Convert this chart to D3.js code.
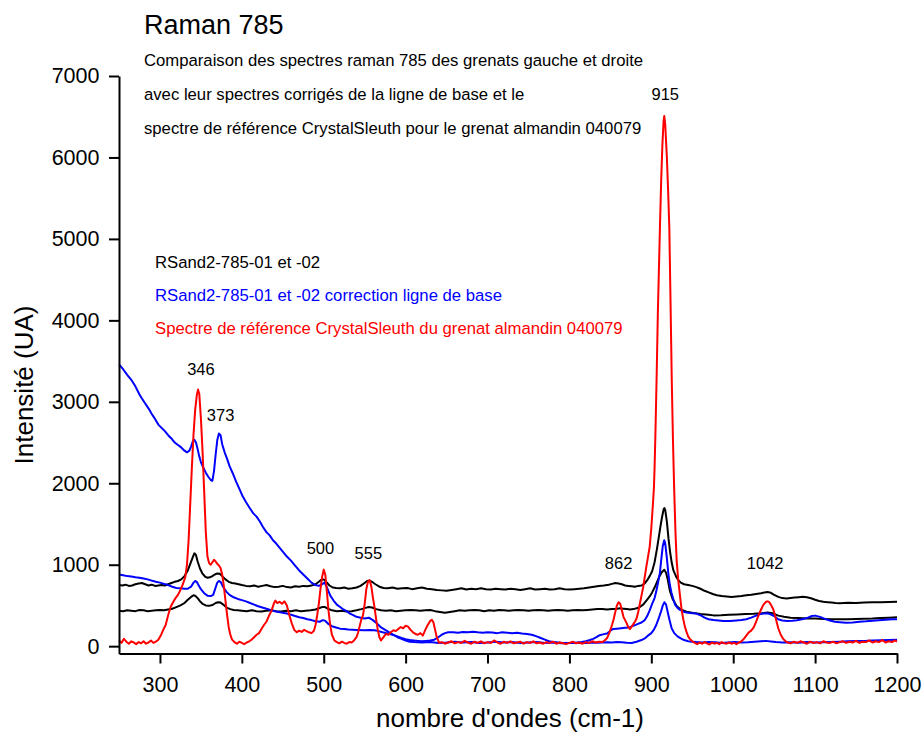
<!DOCTYPE html>
<html>
<head>
<meta charset="utf-8">
<script src="https://cdn.jsdelivr.net/npm/d3@7"></script>
<style>
  html, body { margin: 0; padding: 0; background: #fff; }
  svg { display: block; font-family: "Liberation Sans", Arial, sans-serif; }
</style>
</head>
<body>
<svg id="chart" width="922" height="738"></svg>
<script>
// Raman 785 spectra: [wavenumber (cm-1), intensity (UA)]
const rawUpper = [[250,750],[254,745],[258,755],[262,740],[266,745],[270,760],[274,770],[278,775],[282,760],[286,745],[290,755],[294,740],[298,745],[302,750],[306,745],[310,760],[314,775],[318,790],[322,800],[326,820],[330,860],[334,930],[337,1010],[340,1090],[342,1140],[344,1120],[346,1040],[349,950],[352,890],[355,855],[358,840],[361,845],[364,860],[367,880],[370,893],[373,890],[376,860],[380,820],[384,790],[388,775],[392,770],[396,760],[400,750],[405,740],[410,735],[415,745],[420,730],[425,740],[430,750],[435,735],[440,725],[445,730],[450,740],[455,725],[460,720],[465,735],[470,730],[475,740],[480,735],[485,745],[490,760],[494,790],[497,815],[500,820],[503,790],[507,745],[511,720],[515,715],[520,710],[525,720],[530,705],[535,710],[540,720],[545,740],[549,770],[553,800],[556,805],[559,790],[563,760],[568,730],[573,715],[578,710],[584,720],[590,705],[596,710],[602,715],[608,700],[614,710],[620,720],[626,705],[632,700],[638,690],[644,685],[650,680],[656,690],[662,700],[668,710],[674,695],[680,705],[686,700],[692,710],[698,700],[704,695],[710,705],[716,700],[722,695],[728,705],[734,700],[740,690],[746,700],[752,710],[758,695],[764,700],[770,705],[776,695],[782,700],[788,710],[794,700],[800,695],[806,700],[812,705],[818,710],[824,720],[830,730],[836,740],[842,745],[848,755],[852,765],[856,775],[860,770],[864,760],[868,745],[872,740],[876,735],[880,730],[884,740],[888,745],[892,770],[895,810],[898,860],[901,920],[904,1030],[907,1200],[909,1330],[911,1460],[913,1580],[915,1680],[916,1695],[917,1670],[919,1530],[921,1320],[923,1150],[925,1020],[927,930],[930,860],[933,810],[936,780],[940,760],[945,750],[950,740],[955,725],[960,705],[965,680],[970,660],[975,640],[980,625],[986,615],[992,610],[998,605],[1004,610],[1010,615],[1016,625],[1022,630],[1028,640],[1034,650],[1038,660],[1042,665],[1046,655],[1050,630],[1055,605],[1060,590],[1065,585],[1070,592],[1075,598],[1080,602],[1085,606],[1090,600],[1095,588],[1100,570],[1105,555],[1110,545],[1115,540],[1120,535],[1125,530],[1130,528],[1140,532],[1150,530],[1160,535],[1170,538],[1180,540],[1190,542],[1200,545]];

const rawLower = [[250,435],[255,430],[260,440],[265,435],[270,430],[275,445],[280,440],[285,430],[290,435],[295,440],[300,445],[305,440],[310,450],[315,460],[320,480],[325,500],[330,530],[334,570],[338,605],[341,625],[343,620],[346,590],[349,550],[352,520],[356,500],[360,495],[364,505],[368,530],[371,540],[374,535],[378,505],[382,470],[386,455],[390,445],[395,440],[400,435],[406,430],[412,440],[418,430],[424,425],[430,435],[436,440],[442,430],[448,425],[454,435],[460,430],[466,440],[472,430],[478,435],[484,440],[490,450],[494,465],[498,480],[501,482],[505,460],[510,440],[516,430],[522,435],[528,425],[534,430],[540,440],[546,455],[551,470],[555,480],[559,475],[564,455],[570,440],[576,435],[582,440],[588,430],[594,435],[600,440],[606,445],[612,440],[618,435],[624,440],[630,445],[636,430],[642,420],[648,410],[654,420],[660,430],[666,440],[672,435],[678,440],[684,445],[690,440],[696,430],[702,440],[708,435],[714,445],[720,440],[726,435],[732,440],[738,445],[744,440],[750,435],[756,440],[762,445],[768,440],[774,435],[780,440],[786,445],[792,440],[798,435],[804,440],[810,445],[816,440],[822,445],[828,450],[834,455],[840,455],[846,450],[852,455],[858,460],[862,465],[866,460],[870,455],[874,450],[878,455],[882,465],[886,480],[890,510],[894,560],[898,610],[901,660],[904,720],[907,790],[910,860],[913,910],[915.8,938],[918,900],[920,820],[922.8,675],[926,580],[930.9,493],[936,450],[943,424],[950,410],[960,395],[970,385],[976,378],[985,380],[995,385],[1005,390],[1015,395],[1025,398],[1035,405],[1042,415],[1048,405],[1055,375],[1062,360],[1070,350],[1080,345],[1090,340],[1100,340],[1110,335],[1120,332],[1130,330],[1140,332],[1150,335],[1160,338],[1170,340],[1180,345],[1190,350],[1200,355]];

const correctedHigh = [[250,3460],[255,3400],[260,3330],[265,3270],[270,3190],[275,3090],[278,3040],[282,2980],[286,2920],[290,2850],[294,2790],[298,2720],[302,2680],[306,2640],[310,2590],[314,2550],[318,2500],[322,2470],[326,2440],[330,2400],[333,2380],[336,2400],[338,2450],[340,2510],[342,2535],[344,2500],[346,2420],[348,2330],[350,2260],[353,2190],[356,2130],[359,2080],[362,2040],[364,2030],[366,2150],[368,2350],[370,2530],[372,2610],[374,2590],[376,2480],[379,2380],[382,2300],[385,2210],[389,2120],[393,2020],[397,1930],[401,1840],[405,1770],[410,1690],[414,1630],[418,1590],[422,1530],[426,1460],[430,1400],[434,1360],[438,1300],[442,1260],[446,1210],[450,1160],[455,1100],[460,1050],[465,990],[470,930],[475,880],[480,830],[485,780],[490,750],[494,740],[498,760],[501,780],[504,720],[508,620],[512,560],[516,510],[520,480],[524,450],[528,430],[532,400],[536,380],[540,360],[545,350],[550,340],[555,350],[560,320],[565,280],[570,230],[575,200],[580,170],[585,140],[590,110],[595,90],[600,70],[605,55],[610,50],[620,45],[630,50],[640,40],[650,45],[660,55],[670,45],[680,50],[690,40],[700,45],[710,55],[720,45],[730,50],[740,40],[750,45],[760,50],[770,40],[780,45],[790,35],[800,40],[810,45],[815,50],[820,60],[825,75],[829,90],[833,110],[837,135],[841,145],[846,155],[850,190],[853,210],[858,215],[863,220],[868,225],[873,230],[878,250],[883,270],[888,290],[892,320],[895,370],[898,440],[901,520],[904,590],[906,670],[908,770],[910.5,900],[912,1050],[914,1230],[915.8,1300],[917,1260],[919,1080],[920.7,900],[922.5,760],[924.5,660],[926.8,580],[929,510],[932,470],[935,445],[940,420],[945,410],[950,405],[955,400],[960,380],[965,350],[970,330],[976,320],[982,315],[988,310],[996,310],[1004,315],[1010,320],[1016,330],[1022,350],[1028,375],[1033,395],[1037,400],[1041,405],[1045,395],[1050,370],[1055,330],[1060,315],[1066,310],[1072,312],[1078,318],[1084,330],[1090,345],[1096,370],[1100,375],[1106,360],[1112,335],[1118,315],[1124,300],[1130,295],[1138,288],[1146,290],[1154,300],[1162,305],[1170,312],[1178,318],[1186,325],[1194,330],[1200,330]];

const correctedLow = [[250,880],[255,870],[260,860],[265,855],[270,845],[275,840],[280,830],[285,820],[290,805],[295,790],[300,780],[305,765],[310,750],[315,730],[320,715],[325,710],[330,705],[334,705],[338,730],[341,780],[343,800],[345,790],[347,750],[350,700],[354,650],[358,620],[362,615],[365,630],[368,720],[370,780],[372,800],[374,790],[377,730],[381,670],[385,630],[390,600],[395,580],[400,565],[405,550],[410,530],[415,510],[420,490],[425,475],[430,460],[435,445],[440,430],[445,420],[450,410],[455,400],[460,385],[465,370],[470,355],[475,345],[480,330],[485,320],[490,305],[495,300],[499,320],[502,310],[506,270],[510,245],[515,230],[520,215],[525,210],[530,205],[540,200],[550,195],[556,200],[562,196],[567,185],[572,170],[578,155],[584,140],[590,120],[595,100],[600,85],[605,75],[610,70],[615,65],[620,60],[625,65],[630,70],[635,80],[640,110],[644,140],[648,160],[652,170],[658,172],[664,165],[670,175],[676,170],[682,178],[688,170],[694,165],[700,172],[706,168],[712,160],[718,170],[724,165],[730,158],[736,165],[742,155],[748,150],[754,140],[760,120],[765,100],[770,80],[775,60],[780,50],[786,45],[792,40],[798,38],[804,40],[810,42],[816,38],[822,40],[828,45],[834,42],[840,45],[846,48],[852,45],[858,50],[864,48],[870,42],[876,40],[882,55],[888,75],[892,95],[896,130],[900,160],[903,200],[906,260],[909,340],[912,430],[914,500],[916,540],[918,510],[920,420],[922,330],[924.8,221],[928,160],[932,120],[936,95],[940,75],[945,60],[950,55],[955,50],[962,45],[970,52],[978,48],[986,40],[994,45],[1002,50],[1010,45],[1018,48],[1026,55],[1034,60],[1040,65],[1046,58],[1052,50],[1060,45],[1070,48],[1080,42],[1090,50],[1100,45],[1110,48],[1120,52],[1130,55],[1140,60],[1150,62],[1160,65],[1170,70],[1180,72],[1190,75],[1200,80]];

const reference = [[250,70],[253,40],[256,90],[259,55],[262,30],[265,60],[268,45],[271,25],[274,50],[277,35],[280,60],[283,30],[286,45],[289,70],[292,40],[295,55],[298,80],[301,130],[304,200],[307,260],[310,380],[313,480],[316,540],[319,590],[322,630],[325,690],[328,760],[331,850],[333,1000],[335,1300],[337,1750],[339,2200],[341,2600],[343,2900],[345,3080],[346.5,3150],[348,3100],[350,2800],[352,2400],[354,1900],[356,1400],[358,1100],[360,1020],[362,1000],[364,1030],[366,1060],[368,1040],[370,1010],[372,990],[374,960],[376,880],[378,740],[380,560],[382,380],[384,230],[386,140],[388,80],[391,50],[394,30],[397,55],[400,40],[403,25],[406,45],[409,60],[412,80],[415,110],[418,140],[421,160],[424,210],[427,260],[430,300],[433,370],[436,430],[439,520],[441,560],[443,530],[446,545],[449,520],[452,550],[455,500],[458,380],[461,280],[464,200],[467,170],[470,190],[473,175],[476,200],[479,185],[482,170],[485,160],[488,190],[490,260],[492,380],[494,520],[496,700],[498,850],[500,940],[502,870],[504,650],[506,420],[508,250],[510,140],[513,70],[516,50],[519,35],[522,55],[525,40],[528,30],[531,50],[534,45],[537,70],[540,110],[542,170],[544,250],[546,330],[548,380],[550,520],[552,700],[554,790],[556,810],[558,740],[560,600],[562,480],[564,330],[566,200],[568,110],[570,70],[573,110],[576,150],[579,140],[582,170],[585,195],[588,185],[591,210],[594,235],[597,220],[600,250],[603,240],[606,200],[609,170],[612,150],[615,140],[618,160],[621,130],[624,200],[627,260],[630,310],[632,325],[634,290],[636,200],[638,110],[641,40],[644,50],[648,30],[652,45],[656,60],[660,35],[664,50],[668,40],[672,65],[676,45],[680,30],[684,55],[688,40],[692,60],[696,35],[700,50],[704,40],[708,70],[712,45],[716,30],[720,55],[724,40],[728,60],[732,35],[736,45],[740,55],[744,30],[748,50],[752,40],[756,60],[760,35],[764,45],[768,30],[772,50],[776,40],[780,55],[784,30],[788,45],[792,35],[796,25],[800,40],[804,55],[808,35],[812,45],[816,30],[820,50],[824,40],[828,60],[832,45],[836,55],[840,50],[843,70],[846,100],[849,170],[852,260],[854,330],[856,420],[858,500],[860,540],[862,520],[864,440],[866,360],[868,320],[870,280],[872,230],[874,210],[876,240],[878,270],[880,300],[882,340],[884,420],[886,520],[888,620],[890,720],[892,850],[894,980],[896,1100],[898,1220],[900,1450],[902,1750],[903.2,1950],[904,2200],[905,2600],[906.5,3310],[908,4100],[910.5,5130],[912,5700],[913.5,6150],[915,6450],[915.8,6510],[917,6400],[918,6200],[919,6000],[920.5,5600],[922,5130],[923.5,4200],[925,3250],[926.5,2500],[928,1900],[929.5,1400],[931,1040],[933,800],[935,620],[937,450],[939,330],[941,240],[943,175],[945,120],[947,90],[950,60],[953,40],[956,25],[959,45],[962,30],[965,50],[968,35],[971,20],[974,45],[977,30],[980,40],[983,25],[986,50],[989,35],[992,30],[995,45],[998,30],[1001,40],[1004,25],[1007,45],[1010,60],[1013,90],[1016,130],[1019,170],[1022,190],[1025,230],[1028,300],[1031,380],[1034,450],[1037,510],[1040,545],[1042,550],[1044,540],[1046,510],[1049,450],[1052,340],[1055,220],[1058,140],[1061,90],[1064,60],[1067,45],[1070,35],[1074,55],[1078,40],[1082,60],[1086,45],[1090,30],[1094,55],[1098,40],[1102,50],[1106,35],[1110,60],[1114,45],[1118,40],[1122,55],[1126,35],[1130,50],[1134,60],[1138,40],[1142,55],[1146,45],[1150,65],[1154,40],[1158,55],[1162,50],[1166,70],[1170,45],[1174,60],[1178,50],[1182,75],[1186,45],[1190,60],[1194,50],[1197,70],[1200,55]];

// Axis ticks
const xMajorTicks = [300, 400, 500, 600, 700, 800, 900, 1000, 1100, 1200];
const xMinorTicks = [250, 350, 450, 550, 650, 750, 850, 950, 1050, 1150];
const yMajorTicks = [0, 1000, 2000, 3000, 4000, 5000, 6000, 7000];
const yMinorTicks = [500, 1500, 2500, 3500, 4500, 5500, 6500];

// Peak annotations: [label, anchor wavenumber, intensity at label baseline]
const peakLabels = [
  ["346", 350, 3330],
  ["373", 374, 2770],
  ["500", 496, 1130],
  ["555", 554.5, 1070],
  ["862", 860, 950],
  ["915", 917, 6700],
  ["1042", 1039, 950]
];

const titleText = "Raman 785";
const subtitleLines = [
  "Comparaison des spectres raman 785 des grenats gauche et droite",
  "avec leur spectres corrigés de la ligne de base et le",
  "spectre de référence CrystalSleuth pour le grenat almandin 040079"
];
const legendItems = [
  ["RSand2-785-01 et -02", "#000000"],
  ["RSand2-785-01 et -02 correction ligne de base", "#0000ff"],
  ["Spectre de référence CrystalSleuth du grenat almandin 040079", "#ff0000"]
];

const svg = d3.select("#chart");

const x = d3.scaleLinear().domain([250, 1200]).range([119, 897]);
const y = d3.scaleLinear().domain([-90, 7000]).range([653.5, 76]);

const line = d3.line().x(d => x(d[0])).y(d => y(d[1]));

const series = [
  [rawUpper, "#000000"],
  [rawLower, "#000000"],
  [correctedHigh, "#0000ff"],
  [correctedLow, "#0000ff"],
  [reference, "#ff0000"]
];

const plot = svg.append("g");
series.forEach(([data, color]) => {
  plot.append("path")
    .datum(data)
    .attr("d", line)
    .attr("fill", "none")
    .attr("stroke", color)
    .attr("stroke-width", 2)
    .attr("stroke-linejoin", "round");
});

// X axis
const xAxisG = svg.append("g").attr("transform", `translate(0,${y.range()[0]})`);
xAxisG.call(d3.axisBottom(x).tickValues(xMinorTicks).tickSize(5).tickSizeOuter(0).tickFormat(""));
xAxisG.call(d3.axisBottom(x).tickValues(xMajorTicks).tickSize(10).tickSizeOuter(0).tickPadding(13).tickFormat(d3.format("d")));

// Y axis
const yAxisG = svg.append("g").attr("transform", `translate(${x.range()[0]},0)`);
yAxisG.call(d3.axisLeft(y).tickValues(yMinorTicks).tickSize(6).tickSizeOuter(0).tickFormat(""));
yAxisG.call(d3.axisLeft(y).tickValues(yMajorTicks).tickSize(10).tickSizeOuter(0).tickPadding(9.5).tickFormat(d3.format("d")));

svg.selectAll(".domain").attr("stroke", "#000").attr("stroke-width", 2);
svg.selectAll(".tick line").attr("stroke", "#000").attr("stroke-width", 2);
svg.selectAll(".tick text")
  .attr("fill", "#000")
  .style("font-family", "'Liberation Sans', Arial, sans-serif")
  .style("font-size", "21.5px");

// Axis titles
svg.append("text")
  .attr("x", 510).attr("y", 727)
  .attr("text-anchor", "middle")
  .style("font-size", "26px")
  .text("nombre d'ondes (cm-1)");

svg.append("text")
  .attr("transform", "translate(33,385) rotate(-90)")
  .attr("text-anchor", "middle")
  .style("font-size", "26px")
  .text("Intensité (UA)");

// Title and description
svg.append("text")
  .attr("x", 144).attr("y", 34)
  .style("font-size", "27px")
  .text(titleText);

svg.selectAll(".subtitle")
  .data(subtitleLines)
  .enter().append("text")
  .attr("class", "subtitle")
  .attr("x", 144)
  .attr("y", (d, i) => 66 + i * 34)
  .style("font-size", "16.7px")
  .text(d => d);

// Legend
svg.selectAll(".legend")
  .data(legendItems)
  .enter().append("text")
  .attr("class", "legend")
  .attr("x", 155)
  .attr("y", (d, i) => 268 + i * 32.8)
  .attr("fill", d => d[1])
  .style("font-size", "16.7px")
  .text(d => d[0]);

// Peak labels
svg.selectAll(".peak")
  .data(peakLabels)
  .enter().append("text")
  .attr("class", "peak")
  .attr("x", d => x(d[1]))
  .attr("y", d => y(d[2]))
  .attr("text-anchor", "middle")
  .style("font-size", "16.5px")
  .text(d => d[0]);
</script>
</body>
</html>
